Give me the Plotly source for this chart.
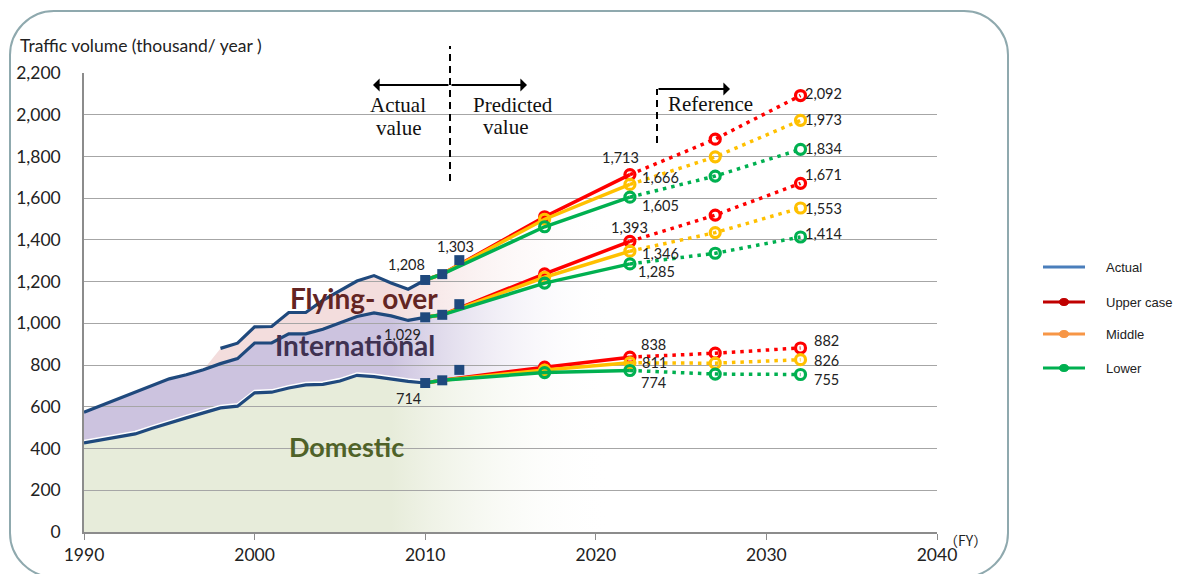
import plotly.graph_objects as go

# ---------------- data ----------------
years_actual = list(range(1990, 2011))
domestic_actual = [427, 441, 456, 470, 497, 523, 547, 571, 595, 603, 667, 670,
                   690, 705, 708, 724, 751, 745, 733, 722, 714]
intl_actual = [574, 606, 638, 670, 702, 734, 754, 778, 807, 831, 906, 906,
               950, 950, 972, 1002, 1033, 1050, 1036, 1014, 1029]
years_total = list(range(1998, 2011))
total_actual = [880, 905, 983, 985, 1052, 1052, 1110, 1155, 1203, 1229, 1194, 1164, 1208]

years_obs = [2010, 2011, 2012]
total_obs = [1208, 1236, 1303]
intl_obs = [1029, 1041, 1092]
dom_obs = [714, 727, 777]

years_fc = [2010, 2011, 2017, 2022, 2027, 2032]
total_upper = [1208, 1236, 1511, 1713, 1883, 2092]
total_middle = [1208, 1236, 1499, 1666, 1798, 1973]
total_lower = [1208, 1236, 1463, 1605, 1706, 1834]
intl_upper = [1029, 1041, 1237, 1393, 1519, 1671]
intl_middle = [1029, 1041, 1221, 1346, 1435, 1553]
intl_lower = [1029, 1041, 1193, 1285, 1336, 1414]
dom_upper = [714, 727, 790, 838, 857, 882]
dom_middle = [714, 727, 776, 811, 809, 826]
dom_lower = [714, 727, 764, 774, 757, 755]

y_ticks = [0, 200, 400, 600, 800, 1000, 1200, 1400, 1600, 1800, 2000, 2200]
x_ticks = [1990, 2000, 2010, 2020, 2030, 2040]

# ---------------- layout geometry ----------------
L, R, T, B = 84, 937, 73, 532
W, H = R - L, B - T
def pxx(px): return (px - L) / W
def pxy(py): return (B - py) / H

BLUE = "#1f497d"
RED, ORANGE, GREEN = "#ff0000", "#ffc000", "#00b050"
TXT = "#222222"

fig = go.Figure()

# ---------------- fills (subplot 1) ----------------
n_solid = 4  # 2010..2022 are solid/actual-based
x_fill = years_actual + years_fc[1:n_solid]
dom_fill = domestic_actual + dom_lower[1:n_solid]
intl_fill = intl_actual + intl_lower[1:n_solid]
top_fill = [v for yr, v in zip(years_actual, intl_actual) if yr < 1998] + total_actual + total_lower[1:n_solid]

def grad(rgb):
    return dict(type="horizontal", start=2008, stop=2021,
                colorscale=[[0, f"rgba({rgb},1)"], [1, "rgba(255,255,255,0)"]])

fig.add_trace(go.Scatter(x=x_fill, y=dom_fill, mode="lines", line=dict(width=0),
                         fill="tozeroy", fillgradient=grad("231,236,218"),
                         showlegend=False, hoverinfo="skip", xaxis="x", yaxis="y"))
fig.add_trace(go.Scatter(x=x_fill, y=intl_fill, mode="lines", line=dict(width=0),
                         fill="tonexty", fillgradient=grad("204,195,223"),
                         showlegend=False, hoverinfo="skip", xaxis="x", yaxis="y"))
fig.add_trace(go.Scatter(x=x_fill, y=top_fill, mode="lines", line=dict(width=0),
                         fill="tonexty", fillgradient=grad("243,221,221"),
                         showlegend=False, hoverinfo="skip", xaxis="x", yaxis="y"))

# ---------------- lines (subplot 2) ----------------
def add(tr):
    tr.update(xaxis="x2", yaxis="y2", showlegend=False, hoverinfo="skip")
    fig.add_trace(tr)

# white halo above domestic line
add(go.Scatter(x=years_actual, y=[v + 9 for v in domestic_actual], mode="lines",
               line=dict(color="white", width=2.5)))
for ys, xs in [(domestic_actual, years_actual), (intl_actual, years_actual), (total_actual, years_total)]:
    add(go.Scatter(x=xs, y=ys, mode="lines", line=dict(color=BLUE, width=3.2)))

groups = [
    (total_upper, total_middle, total_lower),
    (intl_upper, intl_middle, intl_lower),
    (dom_upper, dom_middle, dom_lower),
]
for grp in groups:
    for vals, col in zip(grp, [RED, ORANGE, GREEN]):
        add(go.Scatter(x=years_fc[:n_solid], y=vals[:n_solid], mode="lines",
                       line=dict(color=col, width=3.5)))
        add(go.Scatter(x=years_fc[n_solid - 1:], y=vals[n_solid - 1:], mode="lines",
                       line=dict(color=col, width=3.5, dash="3.5px,5px")))
        add(go.Scatter(x=years_fc[2:], y=vals[2:], mode="markers",
                       marker=dict(symbol="circle-open", size=10, color=col,
                                   line=dict(width=3.2, color=col))))

for ys in [total_obs, intl_obs, dom_obs]:
    add(go.Scatter(x=years_obs, y=ys, mode="markers",
                   marker=dict(symbol="square", size=10, color=BLUE)))

# ---------------- data labels ----------------
labels = [
    # (x, y, dx, dy) dx/dy in pixels (dy positive = down)
    (2032, total_upper[5], 22.5, -2.5), (2032, total_middle[5], 22.5, -1),
    (2032, total_lower[5], 22.5, -1), (2032, intl_upper[5], 22.5, -9),
    (2032, intl_middle[5], 22.5, 1), (2032, intl_lower[5], 22.5, -3),
    (2032, dom_upper[5], 25.5, -7), (2032, dom_middle[5], 25.5, 1),
    (2032, dom_lower[5], 25.5, 5.5),
    (2022, total_upper[3], -9, -17.5), (2022, total_middle[3], 31, -7),
    (2022, total_lower[3], 31, 8), (2022, intl_upper[3], 0, -14),
    (2022, intl_middle[3], 31, 2), (2022, intl_lower[3], 27, 8),
    (2022, dom_upper[3], 24, -13), (2022, dom_middle[3], 25, 0),
    (2022, dom_lower[3], 24, 11.5),
    (2010, total_obs[0], -19, -15), (2012, total_obs[2], -4, -14),
    (2010, intl_obs[0], -23, 17), (2010, dom_obs[0], -17, 15),
]
C = dict(xanchor="center", yanchor="middle")
ann = []
for x, y, dx, dy in labels:
    ann.append(dict(x=x, y=y, xref="x2", yref="y2", text=f"{y:,}", showarrow=False,
                    xshift=dx, yshift=-dy, font=dict(family="Lato", size=14.5, color=TXT), **C))

# region labels
for txt, x, y, col, sz in [("Flying- over", 2006.4, 1121, "#632523", 28),
                           ("International", 2005.9, 896, "#3f3151", 28),
                           ("Domestic", 2005.4, 412, "#4f6228", 27)]:
    ann.append(dict(x=x, y=y, xref="x2", yref="y2", text=f"<b>{txt}</b>", showarrow=False,
                    font=dict(family="Lato", size=sz, color=col), **C))

serif = dict(family="Liberation Serif", size=21, color="#111")
for txt, px, py in [("Actual", 398, 105), ("value", 398, 128), ("Predicted", 513, 105),
                    ("value", 505, 127), ("Reference", 710, 104)]:
    ann.append(dict(x=pxx(px), y=pxy(py), xref="paper", yref="paper", text=txt,
                    showarrow=False, font=serif, **C))

# arrows
for tip, tail, py in [(373, 450, 85), (527, 450, 85), (730, 657, 89)]:
    ann.append(dict(x=pxx(tip), y=pxy(py), xref="paper", yref="paper", text="",
                    showarrow=True, ax=tail - tip, ay=0, arrowhead=1, arrowsize=1.1,
                    arrowwidth=2, arrowcolor="#000"))

# title and unit
ann.append(dict(x=pxx(18), y=pxy(46), xref="paper", yref="paper", xanchor="left", yanchor="middle",
                text="Traffic volume (thousand/ year )", showarrow=False,
                font=dict(family="Lato", size=17.5, color=TXT)))
ann.append(dict(x=pxx(966), y=pxy(540), xref="paper", yref="paper",
                text="（FY）", showarrow=False,
                font=dict(family="Noto Sans CJK JP", size=14, color=TXT), **C))

# ---------------- manual legend ----------------
legend_items = [("Actual", "#4a7ebb", False, 267), ("Upper case", "#c00000", True, 302),
                ("Middle", "#f79646", True, 334), ("Lower", "#00b050", True, 368)]
shapes = []
for name, col, mk, py in legend_items:
    shapes.append(dict(type="line", xref="paper", yref="paper", x0=pxx(1043), x1=pxx(1085),
                       y0=pxy(py), y1=pxy(py), line=dict(color=col, width=3)))
    if mk:
        shapes.append(dict(type="circle", xref="paper", yref="paper", x0=pxx(1059.5), x1=pxx(1068.5),
                           y0=pxy(py + 3.5), y1=pxy(py - 3.5), fillcolor=col, line=dict(color=col, width=1)))
    ann.append(dict(x=pxx(1104), y=pxy(py), xref="paper", yref="paper", xanchor="left", yanchor="middle",
                    text=name, showarrow=False,
                    font=dict(family="Liberation Sans", size=13, color=TXT)))

# dashed separators
shapes.append(dict(type="line", xref="paper", yref="paper", x0=pxx(450), x1=pxx(450),
                   y0=pxy(181), y1=pxy(46), line=dict(color="#000", width=2, dash="7px,5px")))
shapes.append(dict(type="line", xref="paper", yref="paper", x0=pxx(657), x1=pxx(657),
                   y0=pxy(143), y1=pxy(89), line=dict(color="#000", width=2, dash="7px,5px")))

# rounded frame
fl, fr, ft, fb, r = 10, 1008, 11, 577, 44
k = 0.45
pts = [
    ("M", [(fl, ft + r)]), ("L", [(fl, fb - r)]),
    ("C", [(fl, fb - r * k), (fl + r * k, fb), (fl + r, fb)]),
    ("L", [(fr - r, fb)]),
    ("C", [(fr - r * k, fb), (fr, fb - r * k), (fr, fb - r)]),
    ("L", [(fr, ft + r)]),
    ("C", [(fr, ft + r * k), (fr - r * k, ft), (fr - r, ft)]),
    ("L", [(fl + r, ft)]),
    ("C", [(fl + r * k, ft), (fl, ft + r * k), (fl, ft + r)]),
]
path = " ".join(cmd + " " + " ".join(f"{pxx(a):.5f},{pxy(b):.5f}" for a, b in p) for cmd, p in pts) + " Z"
shapes.append(dict(type="path", xref="paper", yref="paper", path=path,
                   line=dict(color="#8fa9ae", width=2), fillcolor="rgba(0,0,0,0)", layer="above"))

tickfont = dict(family="Lato", size=17.5, color=TXT)
fig.update_layout(
    width=1178, height=574,
    margin=dict(l=L, r=1178 - R, t=T, b=574 - B, autoexpand=False),
    paper_bgcolor="white", plot_bgcolor="rgba(0,0,0,0)",
    showlegend=False,
    xaxis=dict(range=[1990, 2040], domain=[0, 1], visible=False, fixedrange=True, automargin=False),
    yaxis=dict(range=[0, 2200], domain=[0, 1], visible=False, fixedrange=True, automargin=False),
    xaxis2=dict(range=[1990, 2040], domain=[0, 1], anchor="y2", tickvals=x_ticks,
                ticks="outside", ticklen=6, tickcolor="#8c8c8c", showgrid=False,
                showline=True, linecolor="#8c8c8c", linewidth=1.5, zeroline=False,
                tickfont=tickfont, automargin=False),
    yaxis2=dict(range=[0, 2200], domain=[0, 1], anchor="x2", tickvals=y_ticks,
                tickformat=",", ticks="", showgrid=True, gridcolor="#a6a6a6", gridwidth=1.3,
                showline=True, linecolor="#8c8c8c", linewidth=1.5, zeroline=False,
                tickfont=tickfont, ticklabelstandoff=18, automargin=False),
    annotations=ann, shapes=shapes,
)

fig.write_html("out.html")
